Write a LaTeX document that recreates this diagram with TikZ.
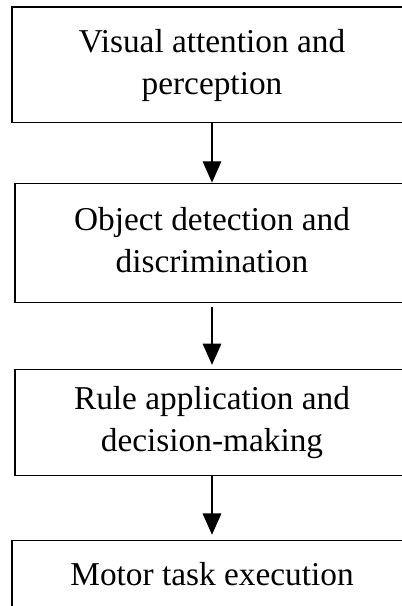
\documentclass[tikz,border=0pt]{standalone}
\usepackage{fontspec}
\setmainfont{Liberation Serif}
\usetikzlibrary{positioning, arrows.meta}

\tikzset{
  stage/.style={draw, line width=0.9pt, rectangle, align=center,
    font=\fontsize{25}{31.5}\selectfont},
  flow/.style={-{Triangle[width=14pt,length=16pt]}, line width=0.9pt}
}

\begin{document}
\begin{tikzpicture}
        \useasboundingbox (0,0) rectangle (301.5pt,-454.5pt);

        \node[stage, minimum width=300pt, minimum height=86.6pt] (1) at (159pt,-48.6pt) {\strut Visual attention and\\perception\strut};
        \node[stage, minimum width=295.5pt, minimum height=89.3pt] (2) [below=44.6pt of 1] {\strut Object detection and\\discrimination\strut};
        \node[stage, minimum width=295.5pt, minimum height=79.5pt] (3) [below=49.5pt of 2] {\strut Rule application and\\decision-making\strut};
        \node[stage, minimum width=300pt, minimum height=54.5pt] (4) [below=48pt of 3] {\strut Motor task execution\strut};

        \path[flow]
        (1) edge (2)
        (2) edge [shorten <=3pt, shorten >=3pt] (3)
        (3) edge [shorten >=4pt] (4)
        ;
    \end{tikzpicture}
\end{document}
